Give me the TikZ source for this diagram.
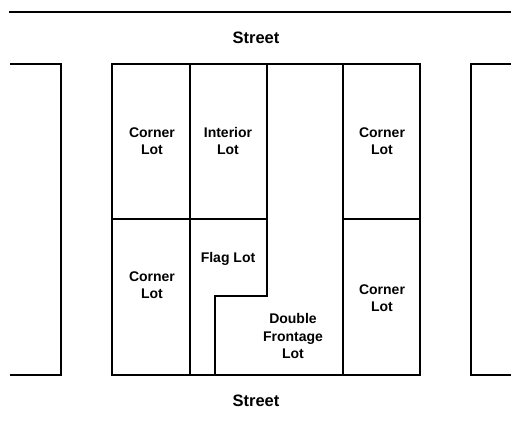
\documentclass[tikz,border=0pt]{standalone}
\usepackage{fontspec}
\setmainfont{Liberation Sans}

\tikzset{
    lot/.style={align=center,inner sep=0pt,font=\bfseries\fontsize{14}{17.5}\selectfont},
    street/.style={inner sep=0pt,font=\bfseries\fontsize{16.5}{20}\selectfont}
}

\begin{document}
\begin{tikzpicture}[x=1pt,y=-1pt,line width=1.1pt]

        %\draw [help lines] (0,0) grid (511,424);
        \useasboundingbox (0,0) rectangle (511,424);

        % streets and blocks
        \draw (9,12) -- (511,12);
        \draw (10,64) -- (61,64) -- (61,375) -- (10,375);
        \draw (112,64) rectangle (420,375);
        \draw (511,64) -- (471,64) -- (471,375) -- (511,375);

        % lot lines
        \draw (190,64) -- (190,375);
        \draw (267,64) -- (267,296) -- (215,296) -- (215,375);
        \draw (343,64) -- (343,375);
        \draw (112,219) -- (267,219);
        \draw (343,219) -- (420,219);

        \path   (256,38)  node (top)    [street] {Street}
                (256,401) node (bottom) [street] {Street}
                (152,141) node (cornera) [lot] {Corner\\Lot}
                (228,141) node (interior) [lot] {Interior\\Lot}
                (382,141) node (cornerb) [lot] {Corner\\Lot}
                (152,285) node (cornerc) [lot] {Corner\\Lot}
                (228,259) node (flag) [lot] {Flag Lot}
                (293,336) node (double) [lot] {Double\\Frontage\\Lot}
                (382,298) node (cornerd) [lot] {Corner\\Lot};

    \end{tikzpicture}
\end{document}
